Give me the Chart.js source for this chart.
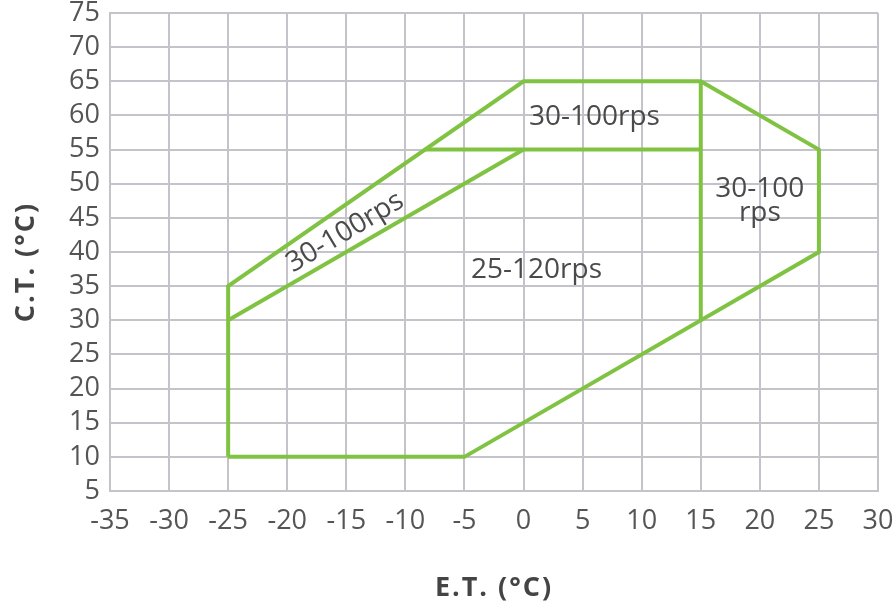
<!DOCTYPE html>
<html>
<head>
<meta charset="utf-8">
<script src="https://cdn.jsdelivr.net/npm/chart.js@4/dist/chart.umd.min.js"></script>
<style>
  html, body { margin: 0; padding: 0; background: #ffffff; }
  #wrap { width: 896px; height: 615px; position: relative; }
</style>
</head>
<body>
<div id="wrap"><canvas id="c"></canvas></div>
<script>
// ---- data ----
const xTickValues = [-35, -30, -25, -20, -15, -10, -5, 0, 5, 10, 15, 20, 25, 30];
const yTickValues = [5, 10, 15, 20, 25, 30, 35, 40, 45, 50, 55, 60, 65, 70, 75];
const xAxisTitle = 'E.T. (°C)';
const yAxisTitle = 'C.T. (°C)';

// envelope outline (E.T., C.T.)
const outerEnvelope = [
  {x: -25, y: 10}, {x: -25, y: 35}, {x: 0, y: 65}, {x: 15, y: 65},
  {x: 25, y: 55}, {x: 25, y: 40}, {x: -5, y: 10}, {x: -25, y: 10}
];
const innerDiagonal = [{x: -25, y: 30}, {x: 0, y: 55}];
const line55 = [{x: -8.33, y: 55}, {x: 15, y: 55}];
const line15 = [{x: 15, y: 30}, {x: 15, y: 65}];

// region labels
const regionLabels = ['30-100rps', '25-120rps', ['30-100', 'rps'], '30-100rps'];
const regionX = [6, 1.1, 20, -15.1];
const regionY = [59.8, 37.3, 47.5, 42.9];
const regionAngle = [0, 0, 0, -31];

const green = '#80c342';
const gridColor = '#c3c3c9';
const fontFamily = '"Open Sans", "Noto Sans", sans-serif';

function seg(data) {
  return {
    data: data, showLine: true, borderColor: green, borderWidth: 4,
    pointRadius: 0, fill: false, tension: 0, borderJoinStyle: 'miter'
  };
}

const labelPlugin = {
  id: 'regionLabels',
  afterDatasetsDraw(chart) {
    const ctx = chart.ctx;
    const xs = chart.scales.x, ys = chart.scales.y;
    const ca = chart.chartArea;
    ctx.save();
    ctx.fillStyle = '#4a4a4a';
    ctx.font = '28px ' + fontFamily;
    ctx.textAlign = 'center';
    ctx.textBaseline = 'middle';
    regionLabels.forEach((lab, i) => {
      const px = xs.getPixelForValue(regionX[i]);
      const py = ys.getPixelForValue(regionY[i]);
      ctx.save();
      ctx.translate(px, py);
      ctx.rotate(regionAngle[i] * Math.PI / 180);
      const lines = Array.isArray(lab) ? lab : [lab];
      const lh = 24;
      lines.forEach((t, j) => {
        ctx.fillText(t, 0, (j - (lines.length - 1) / 2) * lh);
      });
      ctx.restore();
    });
    // axis titles
    ctx.fillStyle = '#444444';
    ctx.font = 'bold 27px ' + fontFamily;
    try { ctx.letterSpacing = '2px'; } catch (e) {}
    ctx.fillText(xAxisTitle, (ca.left + ca.right) / 2, 588);
    ctx.save();
    ctx.translate(26, (ca.top + ca.bottom) / 2 + 10);
    ctx.rotate(-Math.PI / 2);
    ctx.fillText(yAxisTitle, 0, 0);
    ctx.restore();
    ctx.restore();
  }
};

new Chart(document.getElementById('c'), {
  type: 'scatter',
  data: {
    datasets: [seg(outerEnvelope), seg(innerDiagonal), seg(line55), seg(line15)]
  },
  options: {
    responsive: true,
    maintainAspectRatio: false,
    animation: false,
    layout: { padding: { top: 13, right: 18, left: 0, bottom: 0 } },
    plugins: { legend: { display: false }, tooltip: { enabled: false } },
    scales: {
      x: {
        type: 'linear', min: -35, max: 30,
        afterBuildTicks: (s) => { s.ticks = xTickValues.map(v => ({value: v})); },
        afterFit: (s) => { s.height = 124; s.paddingLeft = 0; s.paddingRight = 0; },
        grid: { color: gridColor, lineWidth: 2, drawTicks: false },
        border: { color: gridColor, width: 2 },
        ticks: { color: '#555555', padding: 14, font: { family: fontFamily, size: 27 }, maxRotation: 0, autoSkip: false }
      },
      y: {
        type: 'linear', min: 5, max: 75,
        afterBuildTicks: (s) => { s.ticks = yTickValues.map(v => ({value: v})); },
        afterFit: (s) => { s.width = 110; s.paddingTop = 0; s.paddingBottom = 0; },
        grid: { color: gridColor, lineWidth: 2, drawTicks: false },
        border: { color: gridColor, width: 2 },
        ticks: { color: '#555555', padding: 10, font: { family: fontFamily, size: 27 }, autoSkip: false }
      }
    }
  },
  plugins: [labelPlugin]
});
</script>
</body>
</html>
